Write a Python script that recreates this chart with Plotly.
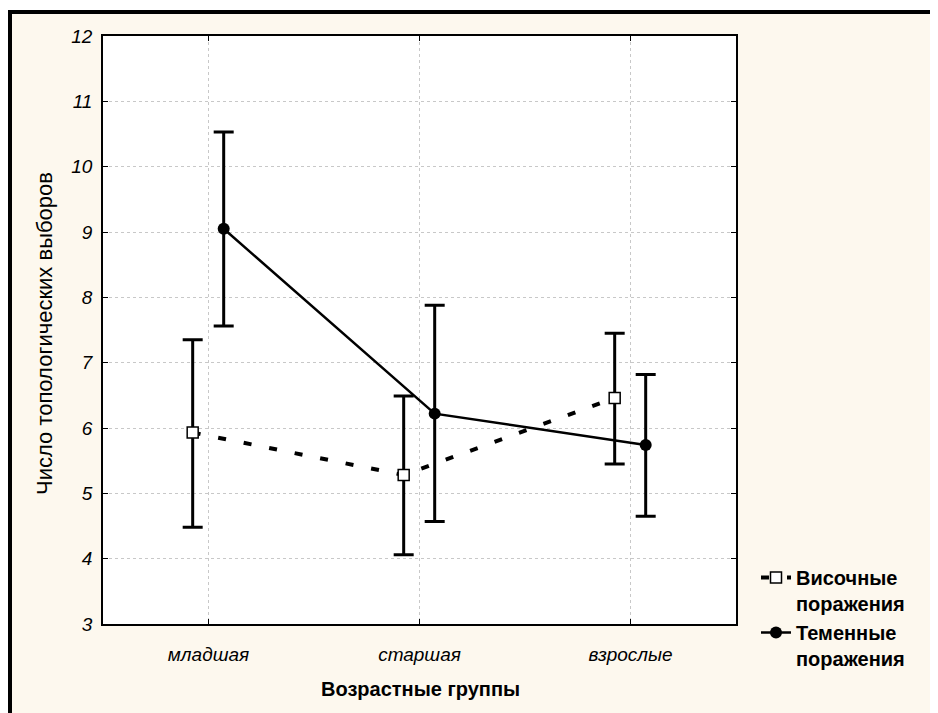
import plotly.graph_objects as go

categories = ["младшая", "старшая", "взрослые"]

temporal_name = "Височные<br>поражения"
temporal_mean = [5.93, 5.28, 6.46]
temporal_upper = [7.35, 6.49, 7.45]
temporal_lower = [4.48, 4.06, 5.45]

parietal_name = "Теменные<br>поражения"
parietal_mean = [9.05, 6.22, 5.74]
parietal_upper = [10.53, 7.88, 6.82]
parietal_lower = [7.56, 4.57, 4.65]

y_ticks = [3, 4, 5, 6, 7, 8, 9, 10, 11, 12]

# page has an 8px body margin; figure is placed at (8, 8)
OFF = 8
W, H = 938 - OFF, 713 - OFF
PL, PR, PT, PB = 103, 736, 36, 624  # plot area in page pixels
ML, MT = PL - OFF, PT - OFF
MR, MB = W - (PR - OFF), H - (PB - OFF)
PW, PH = PR - PL, PB - PT


def px(x):
    return (x - PL) / PW


def py(y):
    return (PB - y) / PH


BG = "#FDF8EE"
FONT = "Liberation Sans, Arial, sans-serif"

idx = list(range(len(categories)))
off_t, off_p = -0.075, 0.072

fig = go.Figure()
fig.add_trace(go.Scatter(
    x=[i + off_t for i in idx], y=temporal_mean, name=temporal_name,
    mode="lines+markers",
    line=dict(color="black", width=4, dash="8px,18px"),
    marker=dict(symbol="square", size=11, color="white", line=dict(color="black", width=1.5)),
    error_y=dict(type="data", symmetric=False,
                 array=[u - m for u, m in zip(temporal_upper, temporal_mean)],
                 arrayminus=[m - l for m, l in zip(temporal_mean, temporal_lower)],
                 color="black", thickness=3, width=10),
))
fig.add_trace(go.Scatter(
    x=[i + off_p for i in idx], y=parietal_mean, name=parietal_name,
    mode="lines+markers",
    line=dict(color="black", width=2.5),
    marker=dict(symbol="circle", size=12, color="black"),
    error_y=dict(type="data", symmetric=False,
                 array=[u - m for u, m in zip(parietal_upper, parietal_mean)],
                 arrayminus=[m - l for m, l in zip(parietal_mean, parietal_lower)],
                 color="black", thickness=3, width=10),
))

shapes = [
    dict(type="rect", xref="paper", yref="paper", x0=px(OFF - 5), x1=px(W + OFF + 5), y0=py(OFF - 5), y1=py(10),
         fillcolor="white", line=dict(width=0), layer="above"),
    dict(type="rect", xref="paper", yref="paper", x0=px(OFF - 5), x1=px(12), y0=py(10), y1=py(H + OFF + 5),
         fillcolor="black", line=dict(width=0), layer="above"),
    dict(type="rect", xref="paper", yref="paper", x0=px(OFF - 5), x1=px(W + OFF + 5), y0=py(10), y1=py(14),
         fillcolor="black", line=dict(width=0), layer="above"),
]

annotations = [
    dict(text="Число топологических выборов", xref="paper", yref="paper",
         x=px(44), y=py(334), textangle=-90, showarrow=False,
         font=dict(family=FONT, size=22, color="black"), xanchor="center", yanchor="middle"),
    dict(text="<b>Возрастные группы</b>", xref="paper", yref="paper",
         x=px(420), y=py(689), showarrow=False,
         font=dict(family=FONT, size=20, color="black"), xanchor="center", yanchor="middle"),
]

fig.update_layout(
    width=W, height=H,
    margin=dict(l=ML, r=MR, t=MT, b=MB, autoexpand=False),
    paper_bgcolor=BG, plot_bgcolor="white",
    font=dict(family=FONT, color="black"),
    showlegend=True,
    legend=dict(x=px(756), y=py(558), xanchor="left", yanchor="top",
                bgcolor="rgba(0,0,0,0)", valign="top",
                font=dict(family=FONT, size=20, color="black", weight="bold"),
                tracegroupgap=4, itemwidth=30),
    shapes=shapes,
    annotations=annotations,
)
fig.update_xaxes(
    range=[-0.5, 2.5], tickvals=idx, ticktext=categories,
    showline=True, linecolor="black", linewidth=1.5, mirror="ticks",
    ticks="inside", ticklen=5, tickcolor="black",
    showgrid=True, gridcolor="#c8c8c8", griddash="dot", gridwidth=1,
    zeroline=False, ticklabelstandoff=12,
    tickfont=dict(family=FONT, size=19, style="italic"),
)
fig.update_yaxes(
    range=[3, 12], tickvals=y_ticks,
    showline=True, linecolor="black", linewidth=1.5, mirror="ticks",
    ticks="inside", ticklen=5, tickcolor="black",
    showgrid=True, gridcolor="#c8c8c8", griddash="dot", gridwidth=1,
    zeroline=False, ticklabelstandoff=5,
    tickfont=dict(family=FONT, size=19, style="italic"),
)

fig.write_html("out.html")
